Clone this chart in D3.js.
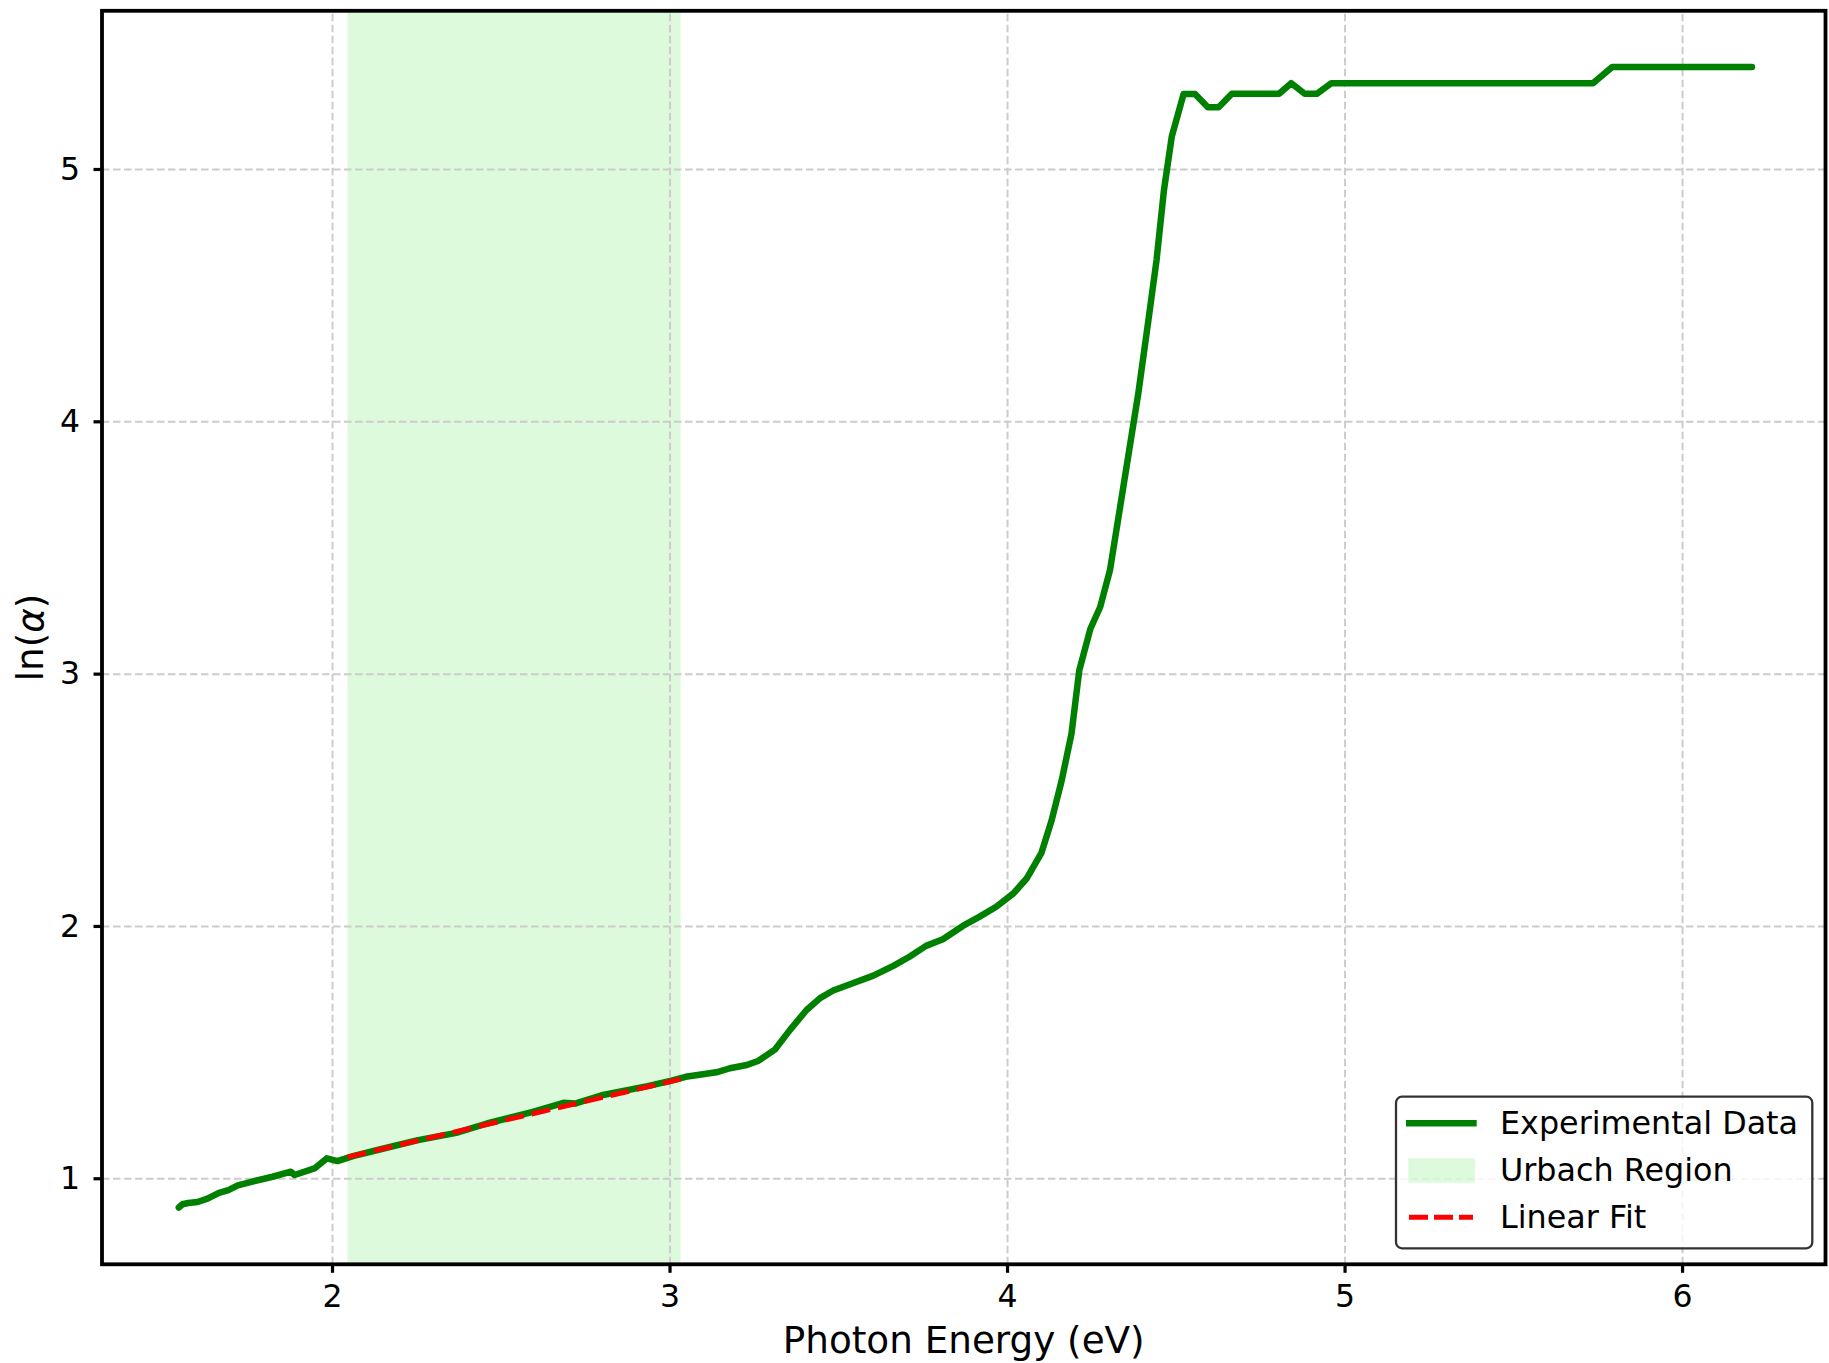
<!DOCTYPE html>
<html><head><meta charset="utf-8">
<script src="https://cdn.jsdelivr.net/npm/d3@7"></script>
<style>body{margin:0;background:#fff}svg{display:block}text{font-family:"DejaVu Sans",sans-serif;fill:#000}</style>
</head><body><svg id="c" width="1829" height="1363"></svg>
<script>
// ---- data ----
const energy = [1.546,1.557,1.574,1.602,1.631,1.665,1.693,1.721,1.767,1.824,1.878,1.889,1.948,1.985,2.016,2.062,2.141,2.255,2.368,2.459,2.595,2.686,2.720,2.799,2.935,3.003,3.048,3.139,3.179,3.229,3.264,3.313,3.357,3.406,3.446,3.485,3.535,3.604,3.663,3.711,3.760,3.810,3.869,3.919,3.968,4.019,4.058,4.102,4.132,4.162,4.191,4.214,4.247,4.276,4.305,4.389,4.419,4.443,4.465,4.488,4.523,4.557,4.595,4.627,4.666,4.806,4.842,4.882,4.918,4.961,5.736,5.793,6.207];
const lnAlpha = [0.884,0.897,0.902,0.906,0.919,0.942,0.953,0.972,0.988,1.006,1.026,1.013,1.039,1.079,1.068,1.088,1.114,1.151,1.180,1.217,1.263,1.299,1.296,1.329,1.365,1.386,1.402,1.420,1.436,1.449,1.466,1.511,1.588,1.667,1.714,1.744,1.769,1.803,1.842,1.878,1.921,1.947,2.000,2.037,2.076,2.129,2.188,2.290,2.418,2.577,2.762,3.013,3.178,3.264,3.410,4.111,4.402,4.639,4.917,5.128,5.297,5.297,5.245,5.245,5.298,5.298,5.340,5.298,5.298,5.340,5.340,5.404,5.404];
const fitEnergy = [2.046, 3.033];
const fitLnAlpha = [1.084, 1.393];
const urbachRegion = [2.046, 3.033];
const xTicks = [2,3,4,5,6];
const yTicks = [1,2,3,4,5];
const legendLabels = ["Experimental Data","Urbach Region","Linear Fit"];
const xLabel = "Photon Energy (eV)";

// ---- layout ----
const L=102, R=1825.5, T=10.8, B=1264.3;
const svg = d3.select("#c");
svg.append("rect").attr("width",1829).attr("height",1363).attr("fill","#fff");
const x = d3.scaleLinear().domain([1.3185,6.425]).range([L,R]);
const y = d3.scaleLinear().domain([0.659,5.627]).range([B,T]);

// Urbach span
svg.append("rect")
  .attr("x",x(urbachRegion[0])).attr("y",T)
  .attr("width",x(urbachRegion[1])-x(urbachRegion[0])).attr("height",B-T)
  .attr("fill","#90ee90").attr("fill-opacity",0.3);

// grid
const gx = svg.append("g").attr("transform",`translate(0,${B})`)
  .call(d3.axisBottom(x).tickValues(xTicks).tickSize(-(B-T)).tickFormat(""));
const gy = svg.append("g").attr("transform",`translate(${L},0)`)
  .call(d3.axisLeft(y).tickValues(yTicks).tickSize(-(R-L)).tickFormat(""));
[gx,gy].forEach(g=>{
  g.select(".domain").remove();
  g.selectAll(".tick line").attr("stroke","#cccccc").attr("stroke-width",2).attr("stroke-dasharray","7.5,3.5");
});

// data line
const pts = energy.map((e,i)=>[e,lnAlpha[i]]);
svg.append("path").datum(pts)
  .attr("d",d3.line().x(d=>x(d[0])).y(d=>y(d[1])))
  .attr("fill","none").attr("stroke","#008000").attr("stroke-width",6.5)
  .attr("stroke-linejoin","round").attr("stroke-linecap","round");

// fit line
const fpts = fitEnergy.map((e,i)=>[e,fitLnAlpha[i]]);
svg.append("path").datum(fpts)
  .attr("d",d3.line().x(d=>x(d[0])).y(d=>y(d[1])))
  .attr("fill","none").attr("stroke","#ff0000").attr("stroke-width",5)
  .attr("stroke-dasharray","19,8");

// axes with ticks
const ax = svg.append("g").attr("transform",`translate(0,${B})`)
  .call(d3.axisBottom(x).tickValues(xTicks).tickSize(8.5).tickPadding(12.2).tickFormat(d3.format("d")));
const ay = svg.append("g").attr("transform",`translate(${L},0)`)
  .call(d3.axisLeft(y).tickValues(yTicks).tickSize(8.5).tickPadding(13.5).tickFormat(d3.format("d")));
[ax,ay].forEach(g=>{
  g.select(".domain").remove();
  g.selectAll(".tick line").attr("stroke","#000").attr("stroke-width",3.2);
  g.selectAll(".tick text").attr("font-size",31.5).attr("font-family","DejaVu Sans").attr("fill","#000");
});

// spines
svg.append("rect").attr("x",L).attr("y",T).attr("width",R-L).attr("height",B-T)
  .attr("fill","none").attr("stroke","#000").attr("stroke-width",3.8);

// axis labels
svg.append("text").attr("x",(L+R)/2).attr("y",1353).attr("text-anchor","middle")
  .attr("font-size",37.3).text(xLabel);
const yl = svg.append("text").attr("text-anchor","middle").attr("font-size",37.3)
  .attr("transform","translate(43,637.5) rotate(-90)");
yl.append("tspan").text("ln(");
yl.append("tspan").attr("font-style","italic").text("α");
yl.append("tspan").text(")");

// legend
const lg = svg.append("g");
lg.append("rect").attr("x",1396).attr("y",1096.7).attr("width",416.3).attr("height",151.6)
  .attr("rx",6).attr("fill","#fff").attr("fill-opacity",0.8).attr("stroke","#333").attr("stroke-width",2.3);
const rowY = [1123.3, 1170.5, 1217.3];
const baseY = [1134, 1181, 1228.3];
lg.append("line").attr("x1",1406).attr("x2",1476.7).attr("y1",rowY[0]).attr("y2",rowY[0])
  .attr("stroke","#008000").attr("stroke-width",6.5);
lg.append("rect").attr("x",1408.3).attr("y",1158.3).attr("width",66.7).attr("height",24.4)
  .attr("fill","#90ee90").attr("fill-opacity",0.3);
lg.append("line").attr("x1",1409).attr("x2",1473).attr("y1",rowY[2]).attr("y2",rowY[2])
  .attr("stroke","#ff0000").attr("stroke-width",5).attr("stroke-dasharray","19,6");
legendLabels.forEach((t,i)=>{
  lg.append("text").attr("x",1500).attr("y",baseY[i]).attr("font-size",31.8).text(t);
});
</script></body></html>
